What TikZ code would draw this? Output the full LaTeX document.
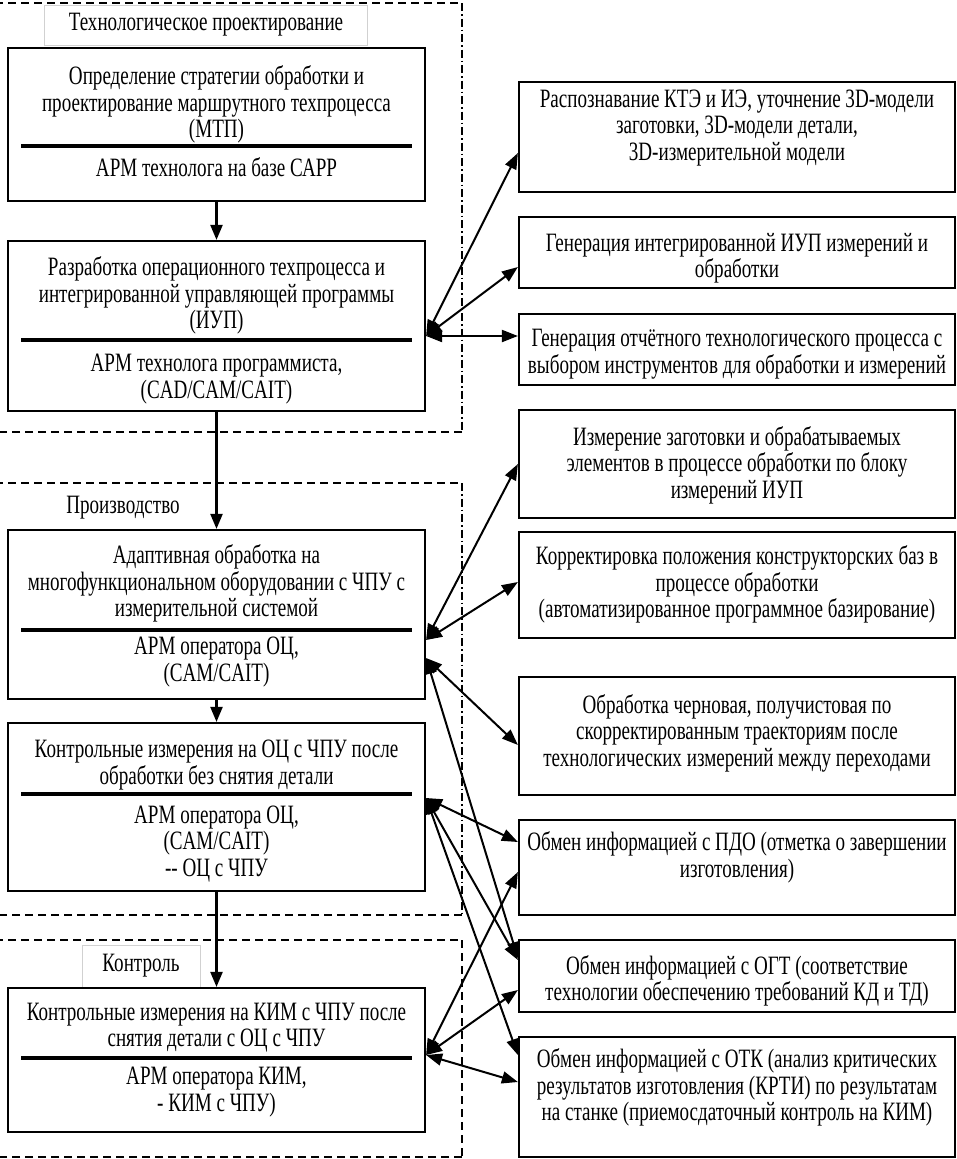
\documentclass[tikz,border=0pt]{standalone}
\usepackage{fontspec}
\setmainfont{Liberation Serif}
\newfontfamily\tfont[FakeStretch=0.72]{Liberation Serif}
\usetikzlibrary{arrows.meta}
\begin{document}
\begin{tikzpicture}[x=1pt,y=-1pt,
  box/.style={draw, line width=2.2pt, inner sep=0pt, fill=white},
  lbox/.style={box, minimum width=417pt},
  rbox/.style={box, minimum width=436pt},
  txt/.style={align=center, inner sep=0pt, font=\tfont\fontsize{26.5pt}{26.5pt}\selectfont},
  tag/.style={txt, draw=black!18, line width=1pt, fill=white},
  arr/.style={line width=2.2pt, -{Triangle[length=15pt,width=12pt]}},
  darr/.style={line width=2pt, {Triangle[length=16pt,width=12pt]}-{Triangle[length=16pt,width=12pt]}},
  sepline/.style={line width=3.5pt},
  frame/.style={line width=1.6pt, dash pattern=on 8pt off 5pt},
  framedd/.style={line width=1.4pt, dash pattern=on 8pt off 3pt on 1.5pt off 3pt}]
\useasboundingbox[fill=white] (0,0) rectangle (956,1159);

% frames
\draw[frame] (-5,3) -- (462,3);
\draw[framedd] (462,3) -- (462,432);
\draw[frame] (462,432) -- (-5,432);
\draw[frame] (-5,483) -- (462,483);
\draw[framedd] (462,483) -- (462,915);
\draw[frame] (462,915) -- (-5,915);
\draw[frame] (-5,940) -- (462,940);
\draw[frame] (462,940) -- (462,1157);
\draw[frame] (462,1157) -- (-5,1157);

% frame labels
\node[tag, minimum width=323pt, minimum height=40pt] (L1) at (206,25) {Технологическое проектирование};
\node[txt] (L2) at (123,508) {Производство};
\node[tag, minimum width=118pt, minimum height=42pt] (L3) at (141,966) {Контроль};

% left boxes
\node[lbox, minimum height=153pt] (B1) at (216.5,124.5) {};
\node[txt] (B1a) at (216.5,104.5) {Определение стратегии обработки и\\проектирование маршрутного техпроцесса\\(МТП)};
\draw[sepline] (21,146) -- (412,146);
\node[txt] (B1b) at (216.5,167) {АРМ технолога на базе САРР};

\node[lbox, minimum height=170pt] (B2) at (216.5,326) {};
\node[txt] (B2a) at (216.5,295.5) {Разработка операционного техпроцесса и\\интегрированной управляющей программы\\(ИУП)};
\draw[sepline] (21,340) -- (412,340);
\node[txt] (B2b) at (216.5,379) {АРМ технолога программиста,\\(CAD/CAM/CAIT)};

\node[lbox, minimum height=169pt] (B3) at (216.5,614.5) {};
\node[txt] (B3a) at (216.5,583.5) {Адаптивная обработка на\\многофункциональном оборудовании с ЧПУ с\\измерительной системой};
\draw[sepline] (21,630) -- (412,630);
\node[txt] (B3b) at (216.5,662) {АРМ оператора ОЦ,\\(CAM/CAIT)};

\node[lbox, minimum height=168pt] (B4) at (216.5,807) {};
\node[txt] (B4a) at (216.5,765) {Контрольные измерения на ОЦ с ЧПУ после\\обработки без снятия детали};
\draw[sepline] (21,794) -- (412,794);
\node[txt] (B4b) at (216.5,844) {АРМ оператора ОЦ,\\(CAM/CAIT)\\-- ОЦ с ЧПУ};

\node[lbox, minimum height=144pt] (B5) at (216.5,1060) {};
\node[txt] (B5a) at (216.5,1027.5) {Контрольные измерения на КИМ с ЧПУ после\\снятия детали с ОЦ с ЧПУ};
\draw[sepline] (21,1058) -- (412,1058);
\node[txt] (B5b) at (216.5,1092) {АРМ оператора КИМ,\\- КИМ с ЧПУ)};

% right boxes
\node[rbox, minimum height=110pt] (R1) at (737,137) {};
\node[txt] (R1t) at (737,128) {Распознавание КТЭ и ИЭ, уточнение 3D-модели\\заготовки, 3D-модели детали,\\3D-измерительной модели};
\node[rbox, minimum height=71pt] (R2) at (737,252.5) {};
\node[txt] (R2t) at (737,258) {Генерация интегрированной ИУП измерений и\\обработки};
\node[rbox, minimum height=71pt] (R3) at (737,349.5) {};
\node[txt] (R3t) at (737,354) {Генерация отчётного технологического процесса с\\выбором инструментов для обработки и измерений};
\node[rbox, minimum height=108pt] (R4) at (737,464) {};
\node[txt] (R4t) at (737,465) {Измерение заготовки и обрабатываемых\\элементов в процессе обработки по блоку\\измерений ИУП};
\node[rbox, minimum height=106pt] (R5) at (737,585) {};
\node[txt] (R5t) at (737,584.5) {Корректировка положения конструкторских баз в\\процессе обработки\\(автоматизированное программное базирование)};
\node[rbox, minimum height=118pt] (R6) at (737,736) {};
\node[txt] (R6t) at (737,733) {Обработка черновая, получистовая по\\скорректированным траекториям после\\технологических измерений между переходами};
\node[rbox, minimum height=95pt] (R7) at (737,867.5) {};
\node[txt] (R7t) at (737,857.5) {Обмен информацией с ПДО (отметка о завершении\\изготовления)};
\node[rbox, minimum height=72pt] (R8) at (737,976) {};
\node[txt] (R8t) at (737,981) {Обмен информацией с ОГТ (соответствие\\технологии обеспечению требований КД и ТД)};
\node[rbox, minimum height=120pt] (R9) at (737,1097) {};
\node[txt] (R9t) at (737,1087.5) {Обмен информацией с ОТК (анализ критических\\результатов изготовления (КРТИ) по результатам\\на станке (приемосдаточный контроль на КИМ)};

% vertical flow
\draw[arr] (B1.south) -- (B2.north);
\draw[arr] (B2.south) -- (B3.north);
\draw[arr] (B3.south) -- (B4.north);
\draw[arr] (B4.south) -- (B5.north);

% links to right boxes
\draw[darr] ([yshift=-10pt]B2.east) -- ([yshift=-16pt]R1.west);
\draw[darr] ([yshift=-10pt]B2.east) -- ([yshift=-14.5pt]R2.west);
\draw[darr] ([yshift=-10pt]B2.east) -- ([yshift=13.5pt]R3.west);

\draw[darr] ([yshift=-25.5pt]B3.east) -- (R4.west);
\draw[darr] ([yshift=-25.5pt]B3.east) -- ([yshift=3pt]R5.west);
\draw[darr] ([yshift=-43.5pt]B3.east) -- ([yshift=-9pt]R6.west);
\draw[darr] ([yshift=-43.5pt]B3.east) -- ([yshift=18pt]R8.west);

\draw[darr] ([yshift=9pt]B4.east) -- ([yshift=25.5pt]R7.west);
\draw[darr] ([yshift=9pt]B4.east) -- ([yshift=16pt]R8.west);
\draw[darr] ([yshift=9pt]B4.east) -- ([yshift=42pt]R9.west);

\draw[darr] ([yshift=5pt]B5.east) -- ([yshift=-4.5pt]R7.west);
\draw[darr] ([yshift=5pt]B5.east) -- ([yshift=-14pt]R8.west);
\draw[darr] ([yshift=5pt]B5.east) -- ([yshift=15pt]R9.west);
\end{tikzpicture}
\end{document}
